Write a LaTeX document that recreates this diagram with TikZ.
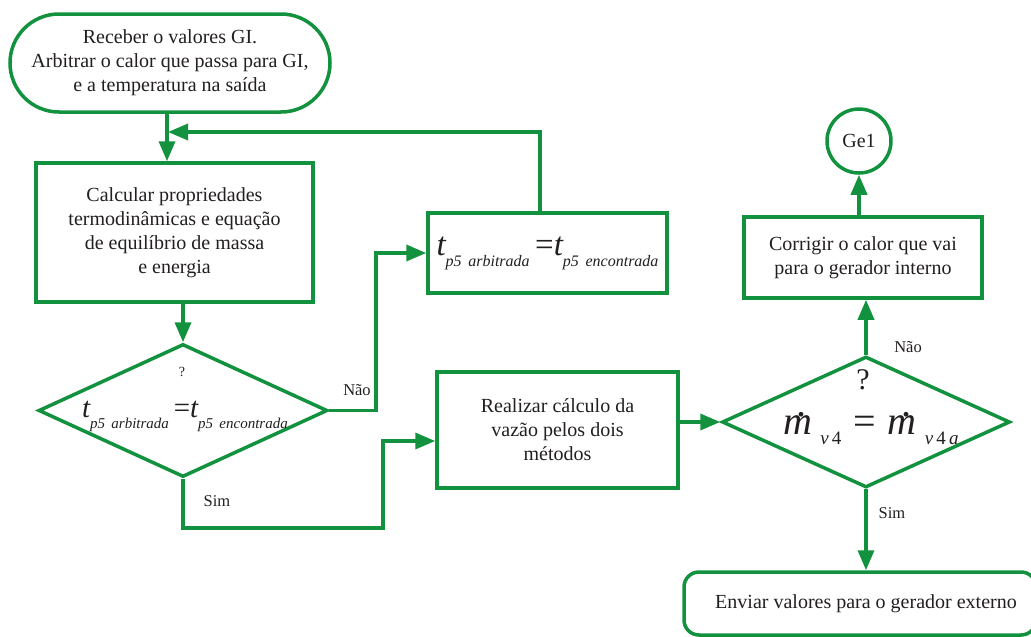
\documentclass[tikz,border=0pt]{standalone}
\usepackage{fontspec}
\setmainfont{LiberationSerif}[Extension=.ttf,UprightFont=*-Regular,ItalicFont=*-Italic,BoldFont=*-Bold,BoldItalicFont=*-BoldItalic]
\usetikzlibrary{shapes.geometric,arrows.meta,calc}
\definecolor{fgreen}{RGB}{18,146,62}
\definecolor{ink}{RGB}{35,31,32}
\newcommand\mainfs{\fontsize{20}{24}\selectfont}
\newcommand\mdot{\ooalign{\itshape m\cr\hidewidth\kern0.2em\raisebox{0.45em}{\upshape .}\hidewidth\cr}}
\begin{document}
\begin{tikzpicture}[x=1pt,y=-1pt,
  flowline/.style={draw=fgreen,line width=3.5pt},
  arr/.style={flowline,-{Triangle[length=20pt,width=16pt]}},
  procbox/.style={rectangle,draw=fgreen,line width=3.5pt,inner sep=0pt,align=center,text=ink,font=\mainfs},
  decision/.style={diamond,draw=fgreen,line width=3.5pt,inner sep=0pt},
  lbl/.style={text=ink,inner sep=0pt,font=\fontsize{16.5}{19}\selectfont},
  txt/.style={text=ink,inner sep=0pt}]
\useasboundingbox (0,0) rectangle (1031,637);
\fill[white] (0,0) rectangle (1031,637);

% nodes
\node[procbox,rounded corners=49pt,minimum width=320pt,minimum height=98pt] (term) at (170,63)
  {Receber o valores GI.\\Arbitrar o calor que passa para GI,\\e a temperatura na saída};
\node[procbox,minimum width=277pt,minimum height=139pt] (calc) at (174.5,232.5)
  {Calcular propriedades\\termodinâmicas e equação\\de equilíbrio de massa\\e energia};
\node[decision,minimum width=289pt,minimum height=133pt] (d1) at (183,410.5) {};
\node[txt,font=\fontsize{14}{14}\selectfont] (q1) at (182,372) {?};
\node[txt,anchor=base] (eq1) at (185,417)
  {\fontsize{29}{29}\selectfont\itshape t\raisebox{-11pt}{\fontsize{15}{15}\selectfont p5\, arbitrada}\,\upshape=\itshape t\raisebox{-11pt}{\fontsize{15}{15}\selectfont p5\, encontrada}};
\node[procbox,minimum width=239pt,minimum height=80pt] (tp5) at (547.5,253)
  {\fontsize{33}{33}\selectfont\itshape t\raisebox{-11pt}{\fontsize{16}{16}\selectfont p5\, arbitrada}\,\upshape=\itshape t\raisebox{-11pt}{\fontsize{16}{16}\selectfont p5\, encontrada}};
\node[procbox,minimum width=241pt,minimum height=116pt] (real) at (557.5,430)
  {Realizar cálculo da\\vazão pelos dois\\métodos};
\node[decision,minimum width=288pt,minimum height=131pt] (d2) at (866,422) {};
\node[txt,font=\fontsize{30}{30}\selectfont] (q2) at (863,380) {?};
\node[txt,anchor=base] (eq2) at (871,434)
  {\fontsize{40}{40}\selectfont\mdot\raisebox{-10pt}{\fontsize{19}{19}\selectfont\itshape\, v\,\upshape 4}\hspace{12pt}\upshape=\hspace{12pt}\mdot\raisebox{-10pt}{\fontsize{19}{19}\selectfont\itshape\, v\,\upshape 4\,\itshape a}};
\node[procbox,minimum width=238pt,minimum height=81pt] (corr) at (863,257.5)
  {Corrigir o calor que vai\\para o gerador interno};
\node[procbox,circle,minimum size=64pt] (ge) at (859,141) {Ge1};
\node[procbox,rounded corners=15pt,minimum width=352pt,minimum height=63pt] (env) at (860,603.5)
  {\hspace*{12pt}Enviar valores para o gerador externo};

% labels
\node[lbl] (nao1) at (357,390) {Não};
\node[lbl] (sim1) at (217,501) {Sim};
\node[lbl] (nao2) at (908,347) {Não};
\node[lbl] (sim2) at (892,513) {Sim};

% helper coordinates
\coordinate (vline) at (167,132);
\coordinate (fbtop) at (540,132);
\coordinate (naoc) at (376,410.5);
\coordinate (simc) at (383,528);
\coordinate (simy) at (0,441);

% connectors
\draw[arr] (term.south -| vline) -- (calc.north -| vline);
\draw[arr] (tp5.north -| fbtop) -- (fbtop) -- ([xshift=1pt]vline);
\draw[arr] (calc.south -| d1.north) -- (d1.north);
\draw[arr] (d1.east) -- (naoc) |- (tp5.west);
\draw[arr] (d1.south) |- (simc) |- (real.west |- simy);
\draw[arr] (real.east |- d2.west) -- (d2.west);
\draw[arr] (d2.north) -- (corr.south -| d2.north);
\draw[arr] (corr.north -| ge.south) -- (ge.south);
\draw[arr] (d2.south) -- (env.north -| d2.south);
\end{tikzpicture}
\end{document}
